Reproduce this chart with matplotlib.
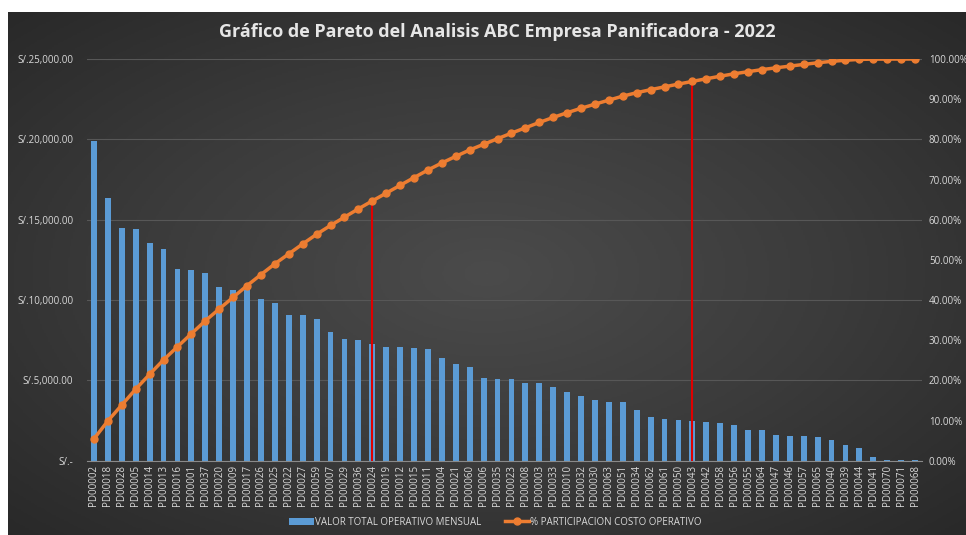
import numpy as np
import matplotlib
matplotlib.use("Agg")
import matplotlib.pyplot as plt
from matplotlib.patches import Patch
from matplotlib.lines import Line2D
from matplotlib.ticker import FuncFormatter

# ==================================================
# DATA
# ==================================================
productos = [
    "PD00002", "PD00018", "PD00028", "PD00005", "PD00014", "PD00013", "PD00016",
    "PD00001", "PD00037", "PD00020", "PD00009", "PD00017", "PD00026", "PD00025",
    "PD00022", "PD00027", "PD00059", "PD00007", "PD00029", "PD00036", "PD00024",
    "PD00019", "PD00012", "PD00015", "PD00011", "PD00004", "PD00021", "PD00060",
    "PD00006", "PD00035", "PD00023", "PD00008", "PD00003", "PD00033", "PD00010",
    "PD00032", "PD00030", "PD00063", "PD00051", "PD00034", "PD00062", "PD00061",
    "PD00050", "PD00043", "PD00042", "PD00058", "PD00056", "PD00055", "PD00064",
    "PD00047", "PD00046", "PD00057", "PD00065", "PD00040", "PD00039", "PD00044",
    "PD00041", "PD00070", "PD00071", "PD00068",
]

valor_mensual = [
    19906, 16339, 14508, 14408, 13537, 13163, 11937, 11874, 11706, 10816,
    10648, 10610, 10050, 9820, 9054, 9054, 8823, 7995, 7578, 7534,
    7248, 7098, 7098, 7036, 6936, 6413, 6021, 5815, 5149, 5087,
    5087, 4857, 4857, 4589, 4296, 4029, 3761, 3674, 3636, 3138,
    2740, 2578, 2515, 2453, 2391, 2329, 2223, 1893, 1893, 1619,
    1557, 1557, 1494, 1289, 996, 791, 249, 40, 40, 35,
]

# cortes ABC marcados con linea roja
cortes = ["PD00024", "PD00043"]

# % acumulado (participacion costo operativo)
total = sum(valor_mensual)
acumulado = np.cumsum(valor_mensual) / total * 100

# ==================================================
# PLOT
# ==================================================
plt.rcParams["font.family"] = ["Open Sans", "DejaVu Sans"]
TXT = "#d9d9d9"

fig = plt.figure(figsize=(9.66, 5.35), dpi=100)
fig.patch.set_facecolor("white")

# fondo oscuro con degradado radial
bg = fig.add_axes([8 / 966, 0, 958 / 966, 523 / 535])
yy, xx = np.mgrid[-1:1:300j, -1:1:500j]
rr = np.sqrt(xx ** 2 + yy ** 2)
bg.imshow(rr, cmap=matplotlib.colors.LinearSegmentedColormap.from_list(
    "bg", ["#4b4b4b", "#3b3b3b", "#282828"]), aspect="auto",
    extent=[0, 1, 0, 1], vmin=0, vmax=1.45)
bg.axis("off")

ax = fig.add_axes([87 / 966, 74.3 / 535, 835 / 966, 401.7 / 535])
ax.set_facecolor("none")
x = np.arange(len(productos))

ax.bar(x, valor_mensual, width=0.42, color="#5B9BD5", zorder=2)
ax.set_xlim(-0.5, len(productos) - 0.5)
ax.set_ylim(0, 25000)
ax.set_yticks(np.arange(0, 25001, 5000))
ax.yaxis.set_major_formatter(FuncFormatter(
    lambda v, p: "S/.-" if v == 0 else "S/.{:,.2f}".format(v)))
ax.grid(axis="y", color="#575757", linewidth=0.8, zorder=0)
ax.set_xticks(x)
ax.set_xticklabels(productos, rotation=90)
ax.tick_params(axis="y", length=0, pad=10, labelsize=7, labelcolor=TXT)
ax.tick_params(axis="x", length=0, pad=3, labelsize=7, labelcolor=TXT)
for s in ["top", "right", "left"]:
    ax.spines[s].set_visible(False)
ax.spines["bottom"].set_color("#8a8a8a")

ax2 = ax.twinx()
ax2.set_ylim(0, 100)
ax2.set_yticks(np.arange(0, 101, 10))
ax2.yaxis.set_major_formatter(FuncFormatter(lambda v, p: "{:.2f}%".format(v)))
ax2.tick_params(axis="y", length=0, pad=5, labelsize=7, labelcolor=TXT)
for s in ax2.spines.values():
    s.set_visible(False)

for c in cortes:
    i = productos.index(c)
    ax2.vlines(x[i], 0, acumulado[i], color="#e00000", linewidth=1.5, zorder=3)

ax2.plot(x, acumulado, color="#ED7D31", linewidth=2.5, marker="o",
         markersize=5, zorder=4)

fig.text(0.515, 0.94, "Gráfico de Pareto del Analisis ABC Empresa Panificadora - 2022",
         ha="center", va="center", fontsize=13, fontweight="bold", color="#e6e6e6")

handles = [Patch(facecolor="#5B9BD5"),
           Line2D([], [], color="#ED7D31", linewidth=2.5, marker="o", markersize=5)]
leg = fig.legend(handles, ["VALOR TOTAL OPERATIVO MENSUAL", "% PARTICIPACION COSTO OPERATIVO"],
                 loc="center", bbox_to_anchor=(0.513, 0.024), ncol=2, frameon=False,
                 fontsize=7, handlelength=2.5, handletextpad=0.1, columnspacing=2.5)
for t in leg.get_texts():
    t.set_color(TXT)

plt.savefig("out.png", dpi=100)
